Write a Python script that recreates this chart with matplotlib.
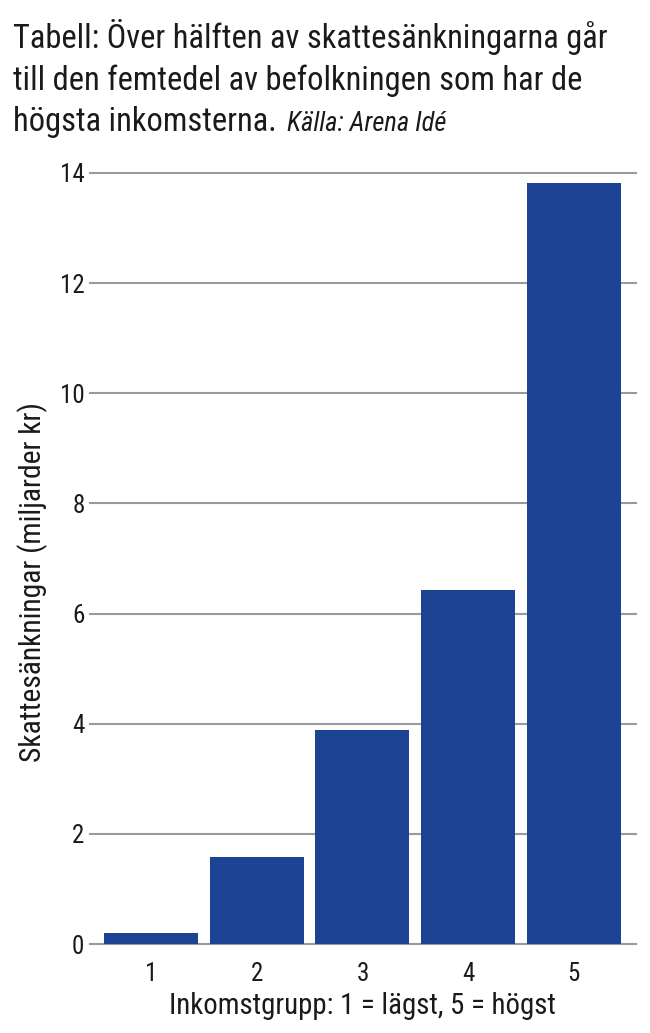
import matplotlib.pyplot as plt
import matplotlib.font_manager as fm

groups = ["1", "2", "3", "4", "5"]
skattesankningar = [0.2, 1.58, 3.88, 6.43, 13.82]
yticks = [0, 2, 4, 6, 8, 10, 12, 14]

bar_colour = "#1d4494"
grid_colour = "#9a9a9a"
text_colour = "#1a1a1a"

# try to find a condensed sans, the original uses a narrow humanist face
fam, stretch = "Liberation Sans", "normal"
for cand in ["Liberation Sans Narrow", "Roboto Condensed", "Open Sans Condensed",
             "Noto Sans", "DejaVu Sans", "Roboto", "Open Sans"]:
    try:
        p = fm.findfont(fm.FontProperties(family=cand, stretch="condensed"),
                        fallback_to_default=False)
    except ValueError:
        continue
    if "ondensed" in p or "Narrow" in p:
        fam, stretch = cand, "condensed"
        break
plt.rcParams["font.family"] = [fam, "DejaVu Sans"]
plt.rcParams["font.stretch"] = stretch

fig = plt.figure(figsize=(6.5, 10.33), dpi=100)
ax = fig.add_axes([90/650, 1-944/1033, 546/650, 771/1033])

x = list(range(1, len(groups)+1))
ax.bar(x, skattesankningar, width=0.89, color=bar_colour, zorder=2)

ax.set_ylim(0, 14)
ax.set_xlim(0.42, 5.59)
ax.set_yticks(yticks)
ax.set_xticks(x)
ax.set_xticklabels(groups)
for y in yticks:
    ax.axhline(y, color=grid_colour, lw=1.5, zorder=1, clip_on=False)
for s in ax.spines.values():
    s.set_visible(False)
ax.tick_params(axis="y", length=0, pad=4, labelsize=18, colors=text_colour)
ax.tick_params(axis="x", length=0, pad=13, labelsize=18, colors=text_colour)

xl = fig.text(362/650, 1-1014/1033, "Inkomstgrupp: 1 = lägst, 5 = högst",
              fontsize=20, color=text_colour, ha="center", va="baseline")
yl = fig.text(33/650, 1-582/1033, "Skattesänkningar (miljarder kr)",
              fontsize=20, color=text_colour, ha="center", va="center", rotation=90)

t1 = fig.text(13/650, 1-48/1033, "Tabell: Över hälften av skattesänkningarna går",
              fontsize=24, color=text_colour, va="baseline")
t2 = fig.text(13/650, 1-90/1033, "till den femtedel av befolkningen som har de",
              fontsize=24, color=text_colour, va="baseline")
t3 = fig.text(13/650, 1-131/1033, "högsta inkomsterna.",
              fontsize=24, color=text_colour, va="baseline")
src = fig.text(287/650, 1-131/1033, "Källa: Arena Idé",
               fontsize=17, style="italic", color=text_colour, va="baseline")

# fit the texts to the widths they take in the original
r = fig.canvas.get_renderer()
def fit(t, px, vertical=False):
    bb = t.get_window_extent(r)
    size = bb.height if vertical else bb.width
    t.set_fontsize(t.get_fontsize() * px / size)
    return t.get_fontsize()

s1 = fit(t1, 596)
t2.set_fontsize(s1)
t3.set_fontsize(s1)
fit(src, 160)
fit(xl, 387)
fit(yl, 361, vertical=True)

fig.savefig("out.png", dpi=100)
